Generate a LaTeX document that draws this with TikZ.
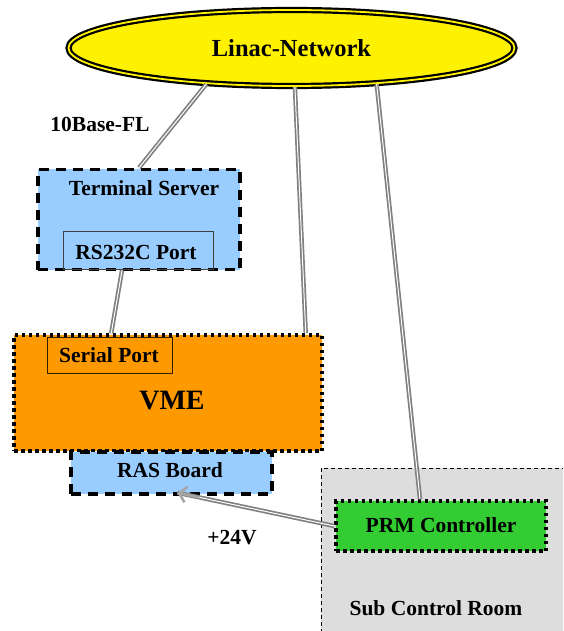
\documentclass[tikz,border=0pt]{standalone}
\usepackage{fontspec}
\setmainfont{Liberation Serif}
\usetikzlibrary{shapes.geometric,arrows.meta,calc}
\definecolor{lblue}{HTML}{99CCFF}
\definecolor{vmeor}{HTML}{FF9900}
\definecolor{prmgr}{HTML}{33CC33}
\definecolor{roomgr}{HTML}{DDDDDD}
\definecolor{conngr}{HTML}{808080}
\tikzset{
  box/.style={rectangle, inner sep=0pt},
  dashbox/.style={box, draw=black, line width=3.5pt, dash pattern=on 10pt off 7pt},
  dotbox/.style={box, draw=black, line width=3.5pt, dash pattern=on 3.5pt off 3.5pt},
  thinbox/.style={box, draw=black!75, line width=0.7pt},
  lbl/.style={inner sep=0pt, font=\fontsize{21.5}{24}\selectfont\bfseries},
  conn/.style={draw=conngr, line width=1.7pt, double=white, double distance=1pt},
}
\begin{document}
\begin{tikzpicture}[x=1pt,y=-1pt]
\useasboundingbox (0,0) rectangle (563,631);
% sub control room
\begin{scope}
\clip (0,0) rectangle (563,631);
\draw[fill=roomgr, draw=black, line width=0.8pt, dash pattern=on 4pt off 3pt] (321,468) rectangle (580,650);
\end{scope}
\node[lbl] (scrlbl) at (436,608) {Sub Control Room};
% network
\node[ellipse, minimum width=446pt, minimum height=76pt, fill=yellow, draw=black, line width=2.2pt, double=yellow, double distance=1.8pt, font=\fontsize{24.5}{28}\selectfont\bfseries] (net) at (291.5,48) {Linac-Network};
% terminal server
\node[dashbox, fill=lblue, minimum width=202pt, minimum height=100pt] (ts) at (139,219.5) {};
\node[lbl] (tslbl) at (144,188) {Terminal Server};
\node[thinbox, minimum width=150pt, minimum height=38pt] (rs) at (138,250) {};
\node[lbl] (rslbl) at (136,252) {RS232C Port};
% VME
\node[dotbox, fill=vmeor, minimum width=308pt, minimum height=116pt] (vme) at (168,393) {};
\node[thinbox, draw=black!80!vmeor, minimum width=125pt, minimum height=36pt] (sp) at (109.5,355) {};
\node[lbl] (splbl) at (109,355) {Serial Port};
\node[inner sep=0pt, font=\fontsize{28}{32}\selectfont\bfseries] (vmelbl) at (172,401) {VME};
% RAS board
\node[dashbox, fill=lblue, minimum width=201pt, minimum height=42pt] (ras) at (171.5,473) {};
\node[lbl] (raslbl) at (170,470) {RAS Board};
% PRM controller
\node[dotbox, fill=prmgr, minimum width=210pt, minimum height=50pt] (prm) at (441,526) {};
\node[lbl] (prmlbl) at (441,525) {PRM Controller};
% labels
\node[lbl] (fl) at (100,124) {10Base-FL};
\node[lbl] (v24) at (232,538) {+24V};
% connectors
\coordinate (tstop) at (ts.north);
\coordinate (vmetopr) at ($(vme.north east)+(-18,0)$);
\coordinate (prmtop) at ($(prm.north)+(-21,0)$);
\coordinate (rsbot) at ($(rs.south)+(-16,1)$);
\coordinate (vmetopl) at ($(vme.north west)+(99,0)$);
\coordinate (rasend) at ($(ras.south)+(6,-3)$);
\draw[conn] (net.203) -- (tstop);
\draw[conn] (net.275) -- (vmetopr);
\draw[conn] (net.337) -- (prmtop);
\draw[conn] (rsbot) -- (vmetopl);
\draw[conn] (prm.west) -- (rasend);
\draw[draw=black!35, line width=2.6pt, -{Straight Barb[length=7pt, width=16pt]}] ($(rasend)!0.14!(prm.west)$) -- (rasend);
\end{tikzpicture}
\end{document}
